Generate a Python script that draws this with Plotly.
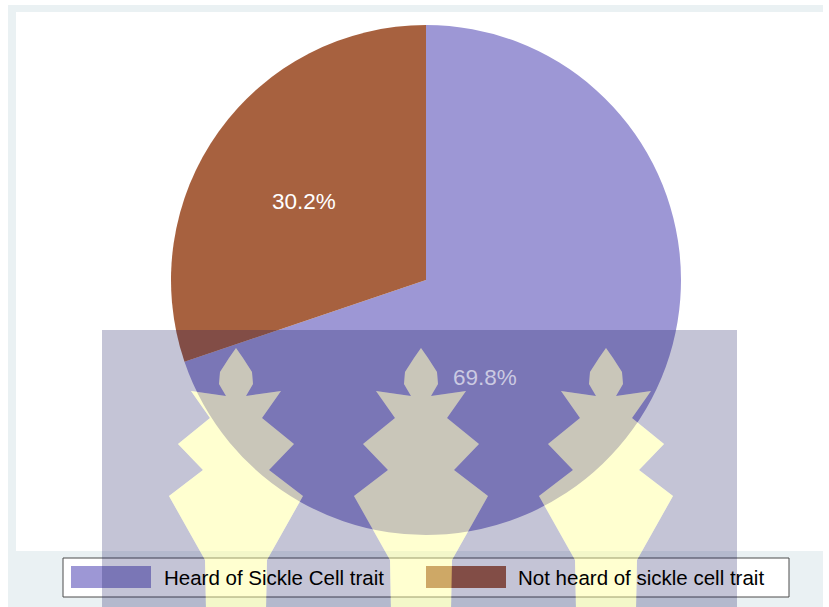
import plotly.graph_objects as go

# Survey responses: awareness of sickle cell trait (percent of respondents)
categories = ["Heard of Sickle Cell trait", "Not heard of sickle cell trait"]
percentages = [69.8, 30.2]
slice_colors = ["#9D97D5", "#A7613F"]

W, H = 829, 607
FONT = "Liberation Sans, Arial, sans-serif"


def px(x):
    return x / W


def py(y):
    return 1 - y / H


fig = go.Figure(
    go.Pie(
        labels=categories,
        values=percentages,
        marker=dict(colors=slice_colors, line=dict(width=0)),
        sort=False,
        direction="clockwise",
        rotation=0,
        textinfo="none",
        hoverinfo="label+percent",
        showlegend=False,
        domain=dict(x=[px(171), px(681)], y=[py(535), py(25)]),
    )
)

shapes = []
annotations = []

# Outer frame and white plot region
shapes.append(dict(type="rect", xref="paper", yref="paper", layer="below",
                   x0=px(8), x1=px(823), y0=py(607), y1=py(5),
                   fillcolor="#EAF1F3", line=dict(width=0)))
shapes.append(dict(type="rect", xref="paper", yref="paper", layer="below",
                   x0=px(16), x1=px(829), y0=py(551), y1=py(12),
                   fillcolor="white", line=dict(width=0)))

# Slice value labels
label_pos = [(485, 377), (304, 202)]
label_colors = ["#CBCAE2", "white"]
for v, (lx, ly), c in zip(percentages, label_pos, label_colors):
    annotations.append(dict(xref="paper", yref="paper", x=px(lx), y=py(ly),
                            xanchor="center", yanchor="middle", showarrow=False,
                            text=f"{v:.1f}%",
                            font=dict(family=FONT, size=22.5, color=c)))

# Legend box with colour keys
leg_x0, leg_x1, leg_y0, leg_y1 = 63, 789, 558, 597
shapes.append(dict(type="rect", xref="paper", yref="paper", layer="above",
                   x0=px(leg_x0), x1=px(leg_x1), y0=py(leg_y1), y1=py(leg_y0),
                   fillcolor="white", line=dict(color="#4d4d4d", width=1)))
key_x = [71, 426]
text_x = [162, 516]
for i, name in enumerate(categories):
    shapes.append(dict(type="rect", xref="paper", yref="paper", layer="above",
                       x0=px(key_x[i]), x1=px(key_x[i] + 80), y0=py(588), y1=py(566),
                       fillcolor=slice_colors[i], line=dict(width=0)))
    annotations.append(dict(xref="paper", yref="paper", x=px(text_x[i]), y=py(577),
                            xanchor="left", yanchor="middle", showarrow=False,
                            text=name,
                            font=dict(family=FONT, size=20.5, color="black")))

# Background crest overlay (tinted panel with three tree silhouettes)
tree_half = [(0, 0), (7, 10), (16, 24), (17, 36), (10, 48), (45, 43), (26, 70),
             (58, 96), (33, 122), (67, 148), (31, 212), (30, 262)]
tree_cx = [236, 421, 606]
tree_top = 348


def tree_path(cx, ccw=True):
    right = [(cx + dx, tree_top + dy) for dx, dy in tree_half]
    left = [(cx - dx, tree_top + dy) for dx, dy in tree_half]
    if ccw:
        pts = left + right[::-1][:-1]
    else:
        pts = right + left[::-1][:-1]
    return "M " + " L ".join(f"{px(x):.5f},{py(y):.5f}" for x, y in pts) + " Z"


panel = (f"M {px(102):.5f},{py(330):.5f} L {px(737):.5f},{py(330):.5f} "
         f"L {px(737):.5f},{py(607):.5f} L {px(102):.5f},{py(607):.5f} Z ")
panel += " ".join(tree_path(cx, ccw=True) for cx in tree_cx)
shapes.append(dict(type="path", xref="paper", yref="paper", layer="above",
                   path=panel, fillcolor="rgba(20,20,91,0.25)", line=dict(width=0)))
for cx in tree_cx:
    shapes.append(dict(type="path", xref="paper", yref="paper", layer="above",
                       path=tree_path(cx, ccw=False),
                       fillcolor="rgba(255,255,150,0.45)", line=dict(width=0)))

fig.update_layout(
    width=W, height=H,
    margin=dict(l=0, r=0, t=0, b=0),
    paper_bgcolor="white",
    shapes=shapes,
    annotations=annotations,
)

fig.write_html("out.html")
